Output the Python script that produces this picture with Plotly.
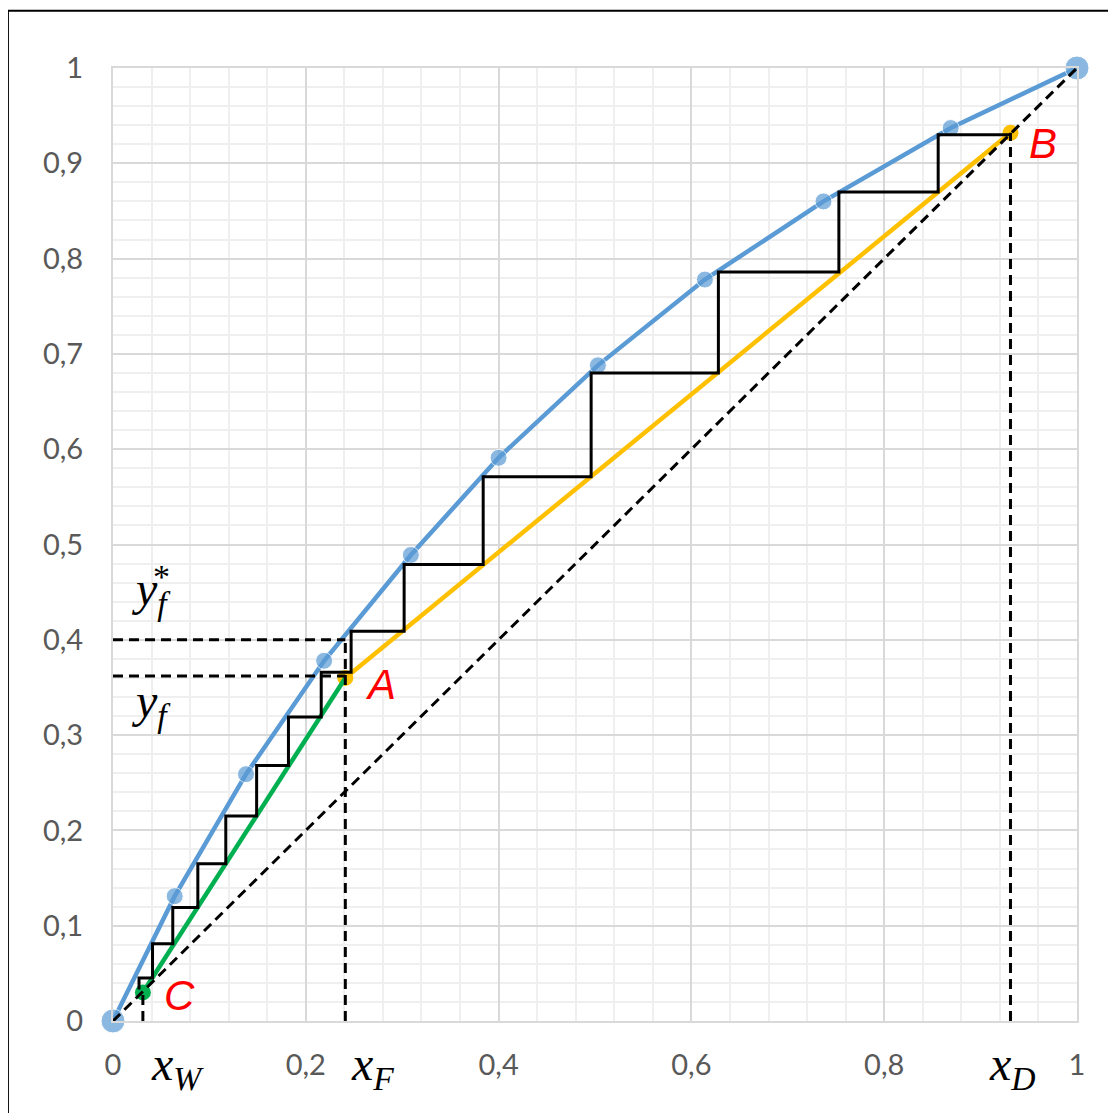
import plotly.graph_objects as go

# Equilibrium curve (blue)
eq_x = [0.0, 0.064, 0.138, 0.219, 0.309, 0.400, 0.503, 0.614, 0.737, 0.869, 1.0]
eq_y = [0.0, 0.131, 0.259, 0.378, 0.489, 0.591, 0.688, 0.778, 0.860, 0.937, 1.0]

# Key points
pt_A = (0.241, 0.360)
pt_B = (0.931, 0.932)
pt_C = (0.031, 0.030)

# Compositions
x_W = 0.031
x_F = 0.241
x_D = 0.931
y_f = 0.362
y_f_star = 0.400

# Stage construction corners (x at each stage, y level of each stage)
stage_x = [0.931, 0.856, 0.753, 0.628, 0.496, 0.384, 0.302, 0.247, 0.216, 0.182, 0.149, 0.117, 0.088, 0.062, 0.041, 0.027]
stage_y = [0.930, 0.870, 0.786, 0.680, 0.571, 0.479, 0.409, 0.366, 0.319, 0.268, 0.215, 0.165, 0.119, 0.081, 0.045, 0.033]

# Tick values
x_ticks = [0, 0.2, 0.4, 0.6, 0.8, 1]
y_ticks = [0, 0.1, 0.2, 0.3, 0.4, 0.5, 0.6, 0.7, 0.8, 0.9, 1]

BLUE = "#5B9BD5"
YELLOW = "#FFC000"
GREEN = "#00B050"
RED = "#FF0000"

fig = go.Figure()

# equilibrium curve
fig.add_trace(go.Scatter(
    x=eq_x, y=eq_y, mode="lines+markers",
    line=dict(color=BLUE, width=4.5),
    marker=dict(color=BLUE, size=[24] + [17] * (len(eq_x) - 2) + [24]),
    cliponaxis=False, hoverinfo="skip"))

# rectifying operating line (yellow)
fig.add_trace(go.Scatter(
    x=[pt_A[0], pt_B[0]], y=[pt_A[1], pt_B[1]], mode="lines+markers",
    line=dict(color=YELLOW, width=4.5), marker=dict(color=YELLOW, size=16),
    cliponaxis=False, hoverinfo="skip"))

# stripping operating line (green)
fig.add_trace(go.Scatter(
    x=[pt_C[0], pt_A[0]], y=[pt_C[1], pt_A[1]], mode="lines",
    line=dict(color=GREEN, width=4.5),
    cliponaxis=False, hoverinfo="skip"))
fig.add_trace(go.Scatter(
    x=[pt_C[0]], y=[pt_C[1]], mode="markers",
    marker=dict(color=GREEN, size=16), cliponaxis=False, hoverinfo="skip"))

# stages
sx = [stage_x[0]]
sy = [stage_y[0]]
for i in range(1, len(stage_x)):
    sx += [stage_x[i], stage_x[i]]
    sy += [stage_y[i - 1], stage_y[i]]
fig.add_trace(go.Scatter(
    x=sx, y=sy, mode="lines", line=dict(color="black", width=3),
    cliponaxis=False, hoverinfo="skip"))

# dashed guides
DASH = dict(color="black", width=3, dash="10px,6px")
dashed = [
    ([0, 1], [0, 1]),
    ([x_W, x_W], [0, pt_C[1]]),
    ([x_F, x_F], [0, y_f_star]),
    ([x_D, x_D], [0, pt_B[1]]),
    ([0, x_F], [y_f_star, y_f_star]),
    ([0, x_F], [y_f, y_f]),
]
for dx, dy in dashed:
    fig.add_trace(go.Scatter(x=dx, y=dy, mode="lines", line=DASH,
                             cliponaxis=False, hoverinfo="skip"))

# point labels
for txt, (px, py), dx, dy in [("A", pt_A, 0.036, -0.007), ("B", pt_B, 0.034, -0.011), ("C", pt_C, 0.038, -0.003)]:
    fig.add_annotation(x=px + dx, y=py + dy, xref="x", yref="y", text="<i>%s</i>" % txt,
                       showarrow=False, font=dict(family="Liberation Sans", size=42, color=RED),
                       xanchor="center", yanchor="middle")

# math labels
MATH = dict(family="Liberation Serif", size=48, color="black")
fig.add_annotation(x=x_W, y=0, xref="x", yref="y", text="<i>x</i><sub><i>W</i></sub>", showarrow=False,
                   font=MATH, xanchor="left", yanchor="top", yshift=-14, xshift=6)
fig.add_annotation(x=x_F, y=0, xref="x", yref="y", text="<i>x</i><sub><i>F</i></sub>", showarrow=False,
                   font=MATH, xanchor="left", yanchor="top", yshift=-14, xshift=4)
fig.add_annotation(x=x_D, y=0, xref="x", yref="y", text="<i>x</i><sub><i>D</i></sub>", showarrow=False,
                   font=MATH, xanchor="center", yanchor="top", yshift=-14, xshift=2)
fig.add_annotation(x=0.017, y=y_f_star, xref="x", yref="y", text="<i>y</i><sub><i>f</i></sub>",
                   showarrow=False, font=MATH, xanchor="left", yanchor="top", yshift=80)
fig.add_annotation(x=0.050, y=y_f_star, xref="x", yref="y", text="*",
                   showarrow=False, font=dict(family="Liberation Serif", size=34, color="black"),
                   xanchor="center", yanchor="middle", yshift=63)
fig.add_annotation(x=0.017, y=y_f, xref="x", yref="y", text="<i>y</i><sub><i>f</i></sub>",
                   showarrow=False, font=MATH, xanchor="left", yanchor="top", yshift=4)

# outer frame (left & top edges)
fig.add_shape(type="line", xref="paper", yref="paper", x0=-0.109, x1=-0.109, y0=-0.2, y1=1.06,
              line=dict(color="black", width=2))
fig.add_shape(type="line", xref="paper", yref="paper", x0=-0.109, x1=1.2, y0=1.06, y1=1.06,
              line=dict(color="black", width=2))

axis_common = dict(
    range=[0, 1], showgrid=True, gridcolor="#d9d9d9", gridwidth=2,
    zeroline=False, showline=True, linecolor="#d9d9d9", linewidth=2, mirror=True,
    tickfont=dict(family="Lato", size=29, color="#595959"),
    ticks="", fixedrange=True,
)
fig.update_xaxes(**axis_common, tickvals=x_ticks,
                 minor=dict(dtick=0.04, tick0=0, showgrid=True, gridcolor="#efefef", gridwidth=2),
                 ticklabelstandoff=17)
fig.update_yaxes(**axis_common, tickvals=y_ticks,
                 minor=dict(dtick=0.02, tick0=0, showgrid=True, gridcolor="#efefef", gridwidth=2),
                 ticklabelstandoff=22)

fig.update_layout(
    width=1108, height=1105,
    margin=dict(l=105, r=39, t=60, b=92),
    plot_bgcolor="white", paper_bgcolor="white",
    showlegend=False, separators=", ",
)

fig.write_html("out.html")
